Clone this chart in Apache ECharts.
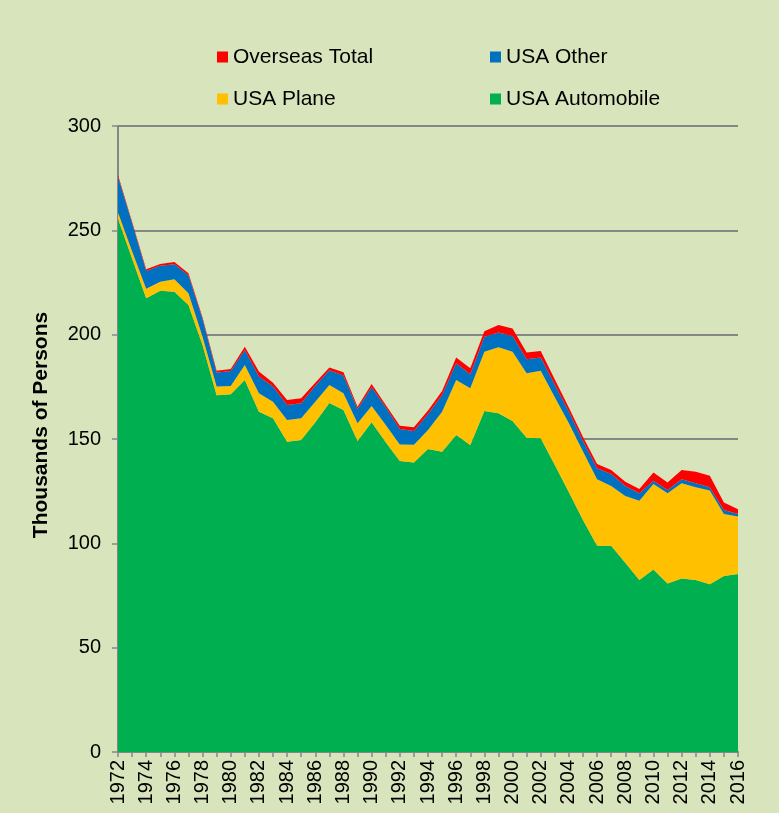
<!DOCTYPE html>
<html>
<head>
<meta charset="utf-8">
<script src="https://cdn.jsdelivr.net/npm/echarts@6/dist/echarts.min.js"></script>
<style>
  html, body { margin: 0; padding: 0; background: #D8E4BC; }
  #chart { width: 779px; height: 813px; }
</style>
</head>
<body>
<div id="chart"></div>
<script>
// Travellers by mode, thousands of persons, 1972-2016
const years = [];
for (let y = 1972; y <= 2016; y++) years.push(String(y));

const usaAutomobile = [
  255.5, 236.5, 217.5, 221.0, 220.6, 214.2, 195.0, 171.0, 171.4, 178.3,
  163.1, 159.9, 148.7, 149.5, 158.0, 167.3, 163.9, 149.0, 158.0, 148.4,
  139.5, 138.7, 145.2, 143.9, 151.9, 147.1, 163.4, 162.3, 158.6, 150.6,
  150.3, 137.5, 124.5, 111.2, 98.8, 98.9, 90.7, 82.4, 87.5, 80.8,
  83.1, 82.4, 80.4, 84.3, 85.3
];
const usaPlane = [
  3.0, 3.5, 4.5, 4.4, 5.9, 5.6, 4.0, 4.1, 4.0, 7.2,
  8.8, 8.0, 10.4, 10.4, 9.9, 8.6, 8.0, 8.5, 7.8, 8.3,
  7.9, 8.6, 9.1, 19.2, 26.4, 27.2, 28.4, 31.7, 33.2, 30.9,
  32.4, 32.5, 33.0, 32.8, 31.9, 28.6, 32.0, 38.0, 40.9, 43.2,
  45.7, 44.5, 44.9, 29.8, 27.5
];
const usaOther = [
  17.0, 13.5, 8.5, 7.6, 7.3, 8.7, 8.5, 6.7, 7.2, 7.2,
  8.0, 7.3, 7.2, 7.2, 7.6, 7.1, 8.5, 6.9, 9.0, 8.5,
  7.4, 6.5, 7.7, 8.0, 8.0, 6.7, 7.2, 7.0, 7.6, 6.7,
  6.4, 6.0, 5.5, 5.0, 5.3, 5.7, 4.8, 3.6, 1.6, 1.6,
  1.9, 1.9, 1.6, 1.9, 1.3
];
const overseasTotal = [
  1.0, 0.6, 0.8, 0.9, 1.0, 0.9, 0.7, 0.9, 0.9, 1.5,
  2.4, 1.8, 2.4, 2.4, 1.5, 1.3, 1.6, 1.1, 1.6, 1.1,
  1.6, 1.8, 1.6, 1.9, 2.7, 2.9, 2.6, 3.6, 3.6, 3.2,
  3.1, 2.5, 2.0, 2.0, 2.0, 1.9, 2.0, 2.0, 3.9, 3.6,
  4.4, 5.5, 5.5, 3.6, 2.2
];
const yTicks = { min: 0, max: 300, interval: 50 };

const colors = {
  'USA Automobile': '#00B050',
  'USA Plane': '#FFC000',
  'USA Other': '#0070C0',
  'Overseas Total': '#FF0000'
};

const font = 'Liberation Sans, Arial, sans-serif';
const gridGray = '#868686';

function areaSeries(name, data) {
  return {
    name: name,
    type: 'line',
    stack: 'total',
    data: data,
    showSymbol: false,
    symbol: 'none',
    lineStyle: { width: 0 },
    itemStyle: { color: colors[name] },
    areaStyle: { color: colors[name], opacity: 1 },
    emphasis: { disabled: true }
  };
}

const legendCommon = {
  orient: 'vertical',
  icon: 'rect',
  itemWidth: 11,
  itemHeight: 11,
  itemGap: 18,
  padding: 0,
  top: 45,
  textStyle: { fontFamily: font, fontSize: 21, color: '#000', lineHeight: 24 },
  selectedMode: false
};

const chart = echarts.init(document.getElementById('chart'), null, { renderer: 'canvas' });
chart.setOption({
  backgroundColor: '#D8E4BC',
  animation: false,
  legend: [
    Object.assign({}, legendCommon, { left: 217, data: ['Overseas Total', 'USA Plane'] }),
    Object.assign({}, legendCommon, { left: 490, data: ['USA Other', 'USA Automobile'] })
  ],
  grid: { left: 118, right: 41, top: 126, bottom: 61, containLabel: false },
  xAxis: {
    type: 'category',
    data: years,
    boundaryGap: false,
    axisLine: { lineStyle: { color: gridGray, width: 2 } },
    axisTick: { show: true, interval: 0, length: 5, lineStyle: { color: gridGray, width: 1.5 } },
    axisLabel: {
      interval: 1,
      rotate: 90,
      margin: 8,
      fontFamily: font,
      fontSize: 20,
      color: '#000'
    },
    splitLine: { show: false }
  },
  yAxis: {
    type: 'value',
    min: yTicks.min,
    max: yTicks.max,
    interval: yTicks.interval,
    name: 'Thousands of Persons',
    nameLocation: 'middle',
    nameGap: 66,
    nameTextStyle: {
      fontFamily: font, fontSize: 21, fontWeight: 'bold', color: '#000',
      padding: [0, 0, 0, 28]
    },
    axisLine: { show: true, lineStyle: { color: gridGray, width: 2 } },
    axisTick: { show: true, length: 6, lineStyle: { color: gridGray, width: 1.5 } },
    axisLabel: { margin: 17, fontFamily: font, fontSize: 20, color: '#000' },
    splitLine: { show: true, lineStyle: { color: gridGray, width: 2 } }
  },
  series: [
    areaSeries('USA Automobile', usaAutomobile),
    areaSeries('USA Plane', usaPlane),
    areaSeries('USA Other', usaOther),
    areaSeries('Overseas Total', overseasTotal)
  ]
});
</script>
</body>
</html>
